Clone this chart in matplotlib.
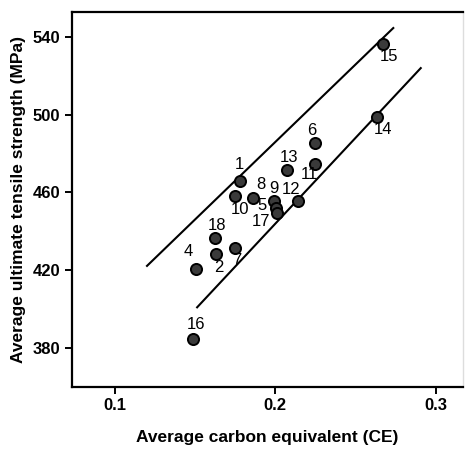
import matplotlib
matplotlib.use('Agg')
import matplotlib.pyplot as plt

plt.rcParams['font.family'] = ['Liberation Sans Narrow', 'Liberation Sans', 'DejaVu Sans']

# sample numbers, carbon equivalent and tensile strength
ids = ['15', '14', '6', '13', '11', '1', '8', '10', '9', '5', '17', '12', '18', '2', '7', '4', '16']
ce = [0.2670, 0.2630, 0.2246, 0.2075, 0.2249, 0.1779, 0.1860, 0.1748, 0.1991, 0.2003,
      0.2009, 0.2142, 0.1623, 0.1632, 0.1751, 0.1505, 0.1488]
uts = [536.4, 498.7, 485.6, 471.3, 474.7, 465.9, 457.2, 458.0, 455.8, 452.0,
       449.5, 455.8, 436.4, 428.1, 431.3, 420.8, 384.7]

# bounding lines (two end points each)
upper_x = [0.1201, 0.2734]
upper_y = [422.2, 544.5]
lower_x = [0.1513, 0.2905]
lower_y = [400.9, 523.9]

# label offsets in pixels (dx, dy up)
offs = [(6, -13), (6, -12), (-3, 12), (2, 13), (-6, -11), (0, 16), (8, 13), (5, -13),
        (0, 12), (-14, 2), (-16, -9), (-7, 11), (2, 13), (3, -13), (1, -12), (-8, 17), (3, 14)]

fig = plt.figure(figsize=(4.65, 4.53), dpi=100)
ax = fig.add_axes([0.1548, 0.1464, 0.8409, 0.8278])

ax.plot(upper_x, upper_y, color='black', lw=1.5)
ax.plot(lower_x, lower_y, color='black', lw=1.5)
ax.plot(ce, uts, 'o', ms=8, mfc='#3a3a3a', mec='black', mew=1.4, ls='none')

for lab, x, y, (dx, dy) in zip(ids, ce, uts, offs):
    ax.annotate(lab, (x, y), xytext=(dx, dy), textcoords='offset pixels',
                ha='center', va='center', fontsize=12)

ax.set_xlim(0.0734, 0.3168)
ax.set_ylim(360.1, 552.9)
ax.set_xticks([0.1, 0.2, 0.3])
ax.set_xticklabels(['0.1', '0.2', '0.3'])
ax.set_yticks([380, 420, 460, 500, 540])

for s in ['left', 'top', 'bottom']:
    ax.spines[s].set_linewidth(1.6)
ax.spines['right'].set_color('#dddddd')
ax.spines['right'].set_linewidth(1.0)

ax.tick_params(direction='out', length=5, width=1.4, labelsize=12, top=False, right=False)
for t in ax.get_xticklabels() + ax.get_yticklabels():
    t.set_fontweight('bold')

ax.set_xlabel('Average carbon equivalent (CE)', fontsize=12.5, fontweight='bold', labelpad=12)
ax.set_ylabel('Average ultimate tensile strength (MPa)', fontsize=12.5, fontweight='bold', labelpad=5)

plt.savefig('out.png', dpi=100)
